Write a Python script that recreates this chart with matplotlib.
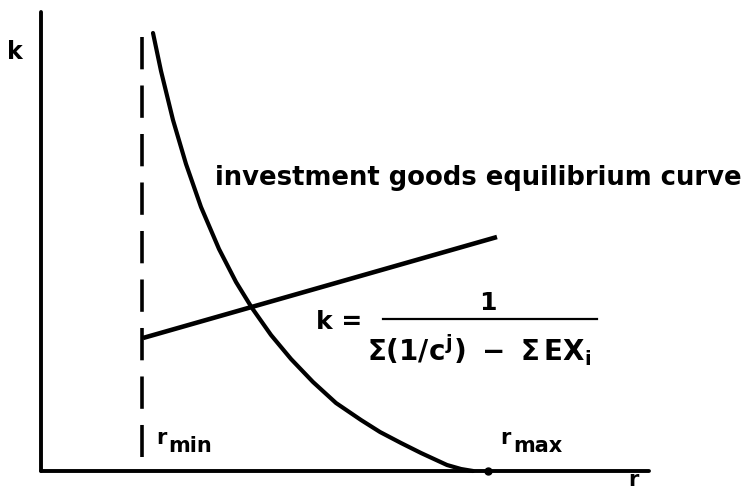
import numpy as np
import matplotlib
matplotlib.use("Agg")
import matplotlib.pyplot as plt

# equilibrium curve k(r), read in plot units (origin at the axes corner)
curve_r = [112, 120, 132, 145, 160, 178, 195, 211, 230, 250, 272,
           295, 320, 339, 360, 380, 406, 420, 432]
curve_k = [438, 400, 351, 307, 264, 222, 189, 163, 136, 112, 89,
           68, 51, 39, 28, 18, 6, 2, 0]

# straight line k = 1 / (sum(1/c^j) - sum EX_i)
line_r = [102, 456]
line_k = [133, 234]

r_min = 101
r_max = 447
r_min_top = 434
r_min_bottom = 14

plt.rcParams['font.family'] = ['DejaVu Sans']
plt.rcParams['mathtext.fontset'] = 'custom'
plt.rcParams['mathtext.rm'] = 'DejaVu Sans:bold'
plt.rcParams['mathtext.it'] = 'DejaVu Sans:bold'
plt.rcParams['mathtext.bf'] = 'DejaVu Sans:bold'

fig = plt.figure(figsize=(7.48, 4.92), dpi=100)
W, H = 748.0, 492.0
ax = fig.add_axes([41 / W, 21 / H, 608 / W, 459 / H])
ax.set_xlim(0, 608)
ax.set_ylim(0, 459)
for s in ['top', 'right']:
    ax.spines[s].set_visible(False)
for s in ['left', 'bottom']:
    ax.spines[s].set_linewidth(2.8)
    ax.spines[s].set_capstyle('round')
ax.set_xticks([])
ax.set_yticks([])

lw = 3.0
ax.plot(curve_r, curve_k, color='black', lw=lw, solid_joinstyle='round',
        solid_capstyle='round', clip_on=False)
ax.plot(line_r, line_k, color='black', lw=lw + 0.3, solid_capstyle='butt')
# dashed r_min line, drawn top-down so the pattern starts with a full dash
ax.plot([r_min, r_min], [r_min_top, r_min_bottom], color='black', lw=2.6,
        dashes=(8.95, 4.48), dash_capstyle='butt')
ax.plot([r_max], [0], 'o', color='black', ms=5, clip_on=False)

tk = dict(color='black', fontweight='bold', clip_on=False)
ax.text(-26, 419, 'k', fontsize=17, ha='center', va='center', **tk)
ax.text(592, -15, 'r', fontsize=15, ha='center', va='baseline', **tk)
ax.text(174, 293, 'investment goods equilibrium curve', fontsize=18.6,
        ha='left', va='center', **tk)

ax.text(275, 149, 'k =', fontsize=18, ha='left', va='center', **tk)
ax.text(447, 168, '1', fontsize=18, ha='center', va='center', **tk)
ax.plot([342, 556], [152, 152], color='black', lw=1.6, clip_on=False)
ax.text(326, 121, r'$\Sigma(1/c^{j})\ -\ \Sigma\,EX_{i}$', fontsize=20,
        ha='left', va='center', **tk)

ax.text(115, 33, 'r', fontsize=15, ha='left', va='center', **tk)
ax.text(127, 25, 'min', fontsize=15, ha='left', va='center', **tk)
ax.text(459, 33, 'r', fontsize=15, ha='left', va='center', **tk)
ax.text(472, 25, 'max', fontsize=15, ha='left', va='center', **tk)

fig.savefig('out.png', dpi=100)
